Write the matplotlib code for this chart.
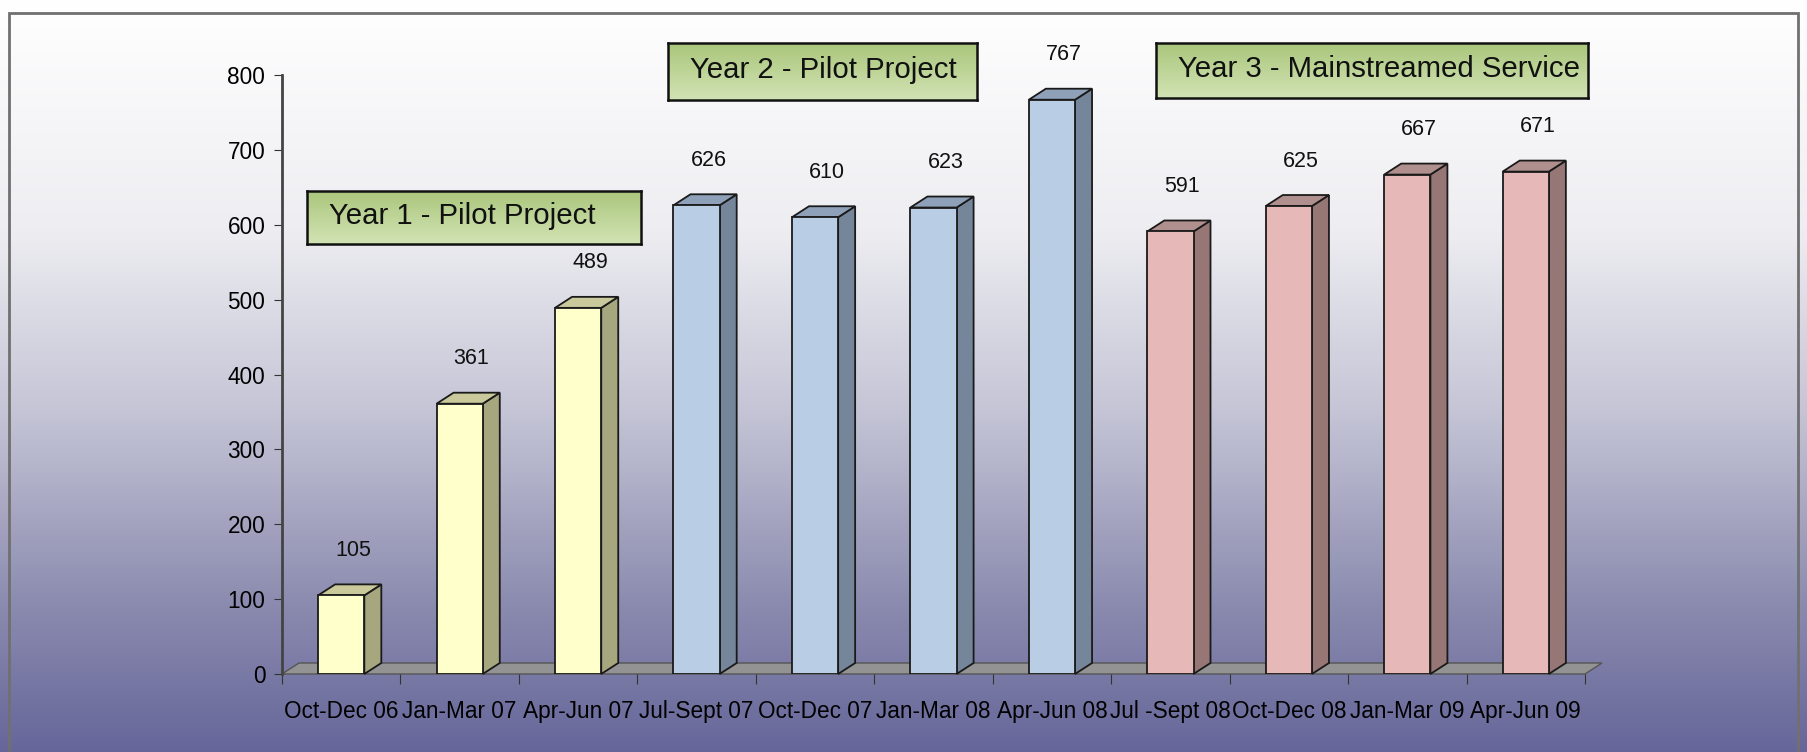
import numpy as np
import matplotlib
matplotlib.use("Agg")
import matplotlib.pyplot as plt
from matplotlib.colors import LinearSegmentedColormap
from matplotlib.patches import Polygon, Rectangle

plt.rcParams['font.family'] = ['Liberation Sans', 'DejaVu Sans']

quarters = ["Oct-Dec 06", "Jan-Mar 07", "Apr-Jun 07", "Jul-Sept 07", "Oct-Dec 07",
            "Jan-Mar 08", "Apr-Jun 08", "Jul -Sept 08", "Oct-Dec 08", "Jan-Mar 09",
            "Apr-Jun 09"]
values = [105, 361, 489, 626, 610, 623, 767, 591, 625, 667, 671]
year = [1, 1, 1, 2, 2, 2, 2, 3, 3, 3, 3]
year_labels = {1: "Year 1 - Pilot Project",
               2: "Year 2 - Pilot Project",
               3: "Year 3 - Mainstreamed Service"}

# front / side / top colours per year
palette = {1: ("#ffffcc", "#a6a67f", "#c9c99b"),
           2: ("#b9cde5", "#76869a", "#8fa1b8"),
           3: ("#e6b8b7", "#977775", "#b0908e")}

fig = plt.figure(figsize=(18.07, 7.52), dpi=100)

# background gradient
bg = fig.add_axes([0, 0, 1, 1])
cmap = LinearSegmentedColormap.from_list(
    "bg", [(0, "#ffffff"), (0.3, "#eeeef2"), (0.55, "#c4c4d6"),
           (0.8, "#8c8cb0"), (1.0, "#66669a")])
grad = np.linspace(0, 1, 256).reshape(-1, 1)
bg.imshow(grad, aspect="auto", cmap=cmap, extent=[0, 1, 0, 1], origin="upper")
bg.add_patch(Rectangle((9 / 1807, -0.01), 1 - 18 / 1807, 1 - 13 / 752 + 0.01,
                       fill=False, edgecolor="#707070", lw=2))
bg.set_xlim(0, 1)
bg.set_ylim(0, 1)
bg.axis("off")

ax = fig.add_axes([282 / 1807, 78 / 752, 1303 / 1807, 599 / 752])
ax.patch.set_alpha(0)
ax.set_xlim(-0.5, len(values) - 0.5)
ax.set_ylim(0, 800)

# 3D depth offsets in data units
dx = 17 / 118.5
dy = 11 / 599 * 800
width = 0.39

# floor
floor = Polygon([(-0.5, 0), (len(values) - 0.5, 0),
                 (len(values) - 0.5 + dx, dy), (-0.5 + dx, dy)],
                closed=True, facecolor="#939393", edgecolor="#555555",
                lw=1, clip_on=False, zorder=1)
ax.add_patch(floor)

x = np.arange(len(values))
fronts = [palette[y][0] for y in year]
bars = ax.bar(x, values, width=width, color=fronts, edgecolor="#1a1a1a",
              lw=1.3, zorder=3)
for b, yr in zip(bars, year):
    x0, x1, h = b.get_x(), b.get_x() + b.get_width(), b.get_height()
    side = Polygon([(x1, 0), (x1 + dx, dy), (x1 + dx, h + dy), (x1, h)],
                   closed=True, facecolor=palette[yr][1], edgecolor="#1a1a1a",
                   lw=1.3, clip_on=False, zorder=2)
    top = Polygon([(x0, h), (x0 + dx, h + dy), (x1 + dx, h + dy), (x1, h)],
                  closed=True, facecolor=palette[yr][2], edgecolor="#1a1a1a",
                  lw=1.3, clip_on=False, zorder=2)
    ax.add_patch(side)
    ax.add_patch(top)
    ax.text(b.get_x() + b.get_width() / 2 + 0.1, h + 60, str(int(h)),
            ha="center", va="center", fontsize=15.5, color="#111111")

ax.set_yticks(np.arange(0, 801, 100))
ax.set_xticks(np.arange(-0.5, len(values), 1), minor=False)
ax.set_xticklabels([])
ax.set_xticks(x, minor=True)
ax.set_xticklabels(quarters, minor=True, fontsize=16.3)
ax.tick_params(axis="x", which="minor", length=0, pad=19)
ax.tick_params(axis="x", which="major", length=7, direction="out", color="#333333")
ax.tick_params(axis="y", length=6, direction="out", labelsize=16.3, pad=6, color="#333333")
for s in ["top", "right", "bottom"]:
    ax.spines[s].set_visible(False)
ax.spines["left"].set_color("#444444")
ax.spines["left"].set_linewidth(2)

# year boxes (figure-pixel positions)
boxes = {1: (307, 191, 334, 53), 2: (668, 43, 309, 57), 3: (1156, 43, 432, 55)}
box_cmap = LinearSegmentedColormap.from_list("g", ["#d2e3b4", "#aac67c"])
for yr, (bx, by, bw, bh) in boxes.items():
    l, b_ = bx / 1807, 1 - (by + bh) / 752
    bax = fig.add_axes([l, b_, bw / 1807, bh / 752])
    bax.imshow(np.linspace(0, 1, 64).reshape(-1, 1), aspect="auto",
               cmap=box_cmap, extent=[0, 1, 0, 1], origin="lower")
    bax.set_xticks([])
    bax.set_yticks([])
    for sp in bax.spines.values():
        sp.set_linewidth(1.8)
        sp.set_color("#111111")
    bax.text(22 / bw, 0.52, year_labels[yr], transform=bax.transAxes,
             ha="left", va="center", fontsize=21.2, color="#111111")

fig.savefig("out.png", dpi=100)
